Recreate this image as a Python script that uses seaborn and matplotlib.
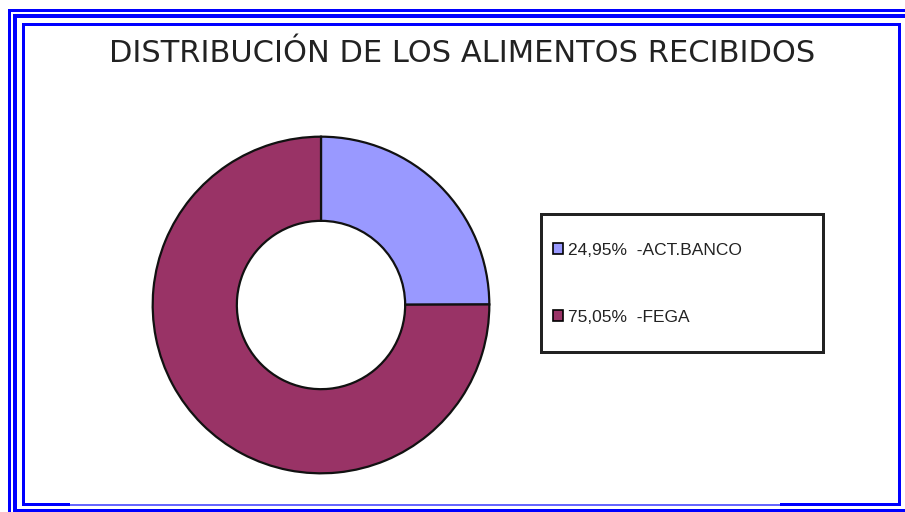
import matplotlib
matplotlib.use("Agg")
import matplotlib.pyplot as plt
from matplotlib.patches import Rectangle
import seaborn as sns

# data
labels = ["24,95%  -ACT.BANCO", "75,05%  -FEGA"]
shares = [24.95, 75.05]
colors = ["#9999FF", "#993366"]

sns.set_theme(style="white")
plt.rcParams["font.family"] = ["DejaVu Sans"]

W, H = 905, 512
fig = plt.figure(figsize=(W / 100, H / 100), dpi=100)
fig.patch.set_facecolor("white")


def box(x, y, w, h, color):
    # filled rectangle in pixel coords, origin top-left
    fig.add_artist(Rectangle((x / W, 1 - (y + h) / H), w / W, h / H,
                             transform=fig.transFigure, facecolor=color,
                             edgecolor="none", zorder=5))


# blue page frame
blue = "#0000FF"
box(8, 9, W, 3, blue)        # outer top
box(8, 9, 3, H, blue)        # outer left
box(13, 14, W, 4, blue)      # thick top
box(13, 14, 4, H, blue)      # thick left
box(13, 509, W, 3, blue)     # bottom
box(22, 23, 879, 3, blue)    # inner top
box(22, 23, 3, 483, blue)    # inner left
box(898, 23, 3, 483, blue)   # inner right
box(22, 503, 48, 3, blue)
box(780, 503, 121, 3, blue)
box(70, 504, 710, 2, "#6666FF")

fig.text(462 / W, 1 - 54 / H, "DISTRIBUCIÓN DE LOS ALIMENTOS RECIBIDOS",
         ha="center", va="center", fontsize=22, color="#222222")

# donut
cx, cy, r = 321, 305, 170
ax = fig.add_axes([(cx - r) / W, 1 - (cy + r) / H, 2 * r / W, 2 * r / H])
wedges, _ = ax.pie(shares, colors=colors, startangle=90, counterclock=False,
                   radius=1, wedgeprops=dict(width=0.5, edgecolor="#111111",
                                             linewidth=1.6))
ax.set_xlim(-1.01, 1.01)
ax.set_ylim(-1.01, 1.01)
ax.axis("off")

# legend box
box(540, 213, 285, 3, "#222222")
box(540, 351, 285, 3, "#222222")
box(540, 213, 3, 141, "#222222")
box(822, 213, 3, 141, "#222222")

leg = fig.legend(wedges, labels, loc="upper left",
                 bbox_to_anchor=(553 / W, 1 - 243 / H),
                 frameon=False, prop={"family": "Liberation Sans", "size": 12.5},
                 handlelength=0.6, handleheight=0.6, handletextpad=0.25,
                 labelspacing=3.0, borderpad=0, borderaxespad=0)
for t in leg.get_texts():
    t.set_color("#222222")
for h in leg.legend_handles:
    h.set_edgecolor("black")
    h.set_linewidth(1.2)

fig.savefig("out.png", dpi=100)
